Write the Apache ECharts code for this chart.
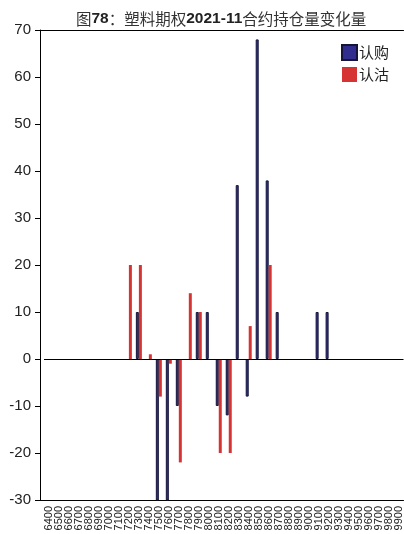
<!DOCTYPE html>
<html><head><meta charset="utf-8">
<script src="https://cdn.jsdelivr.net/npm/echarts@6/dist/echarts.min.js"></script>
<style>html,body{margin:0;padding:0;background:#fff}#c{width:404px;height:534px}</style>
</head><body><div id="c"></div>
<script>
const categories = ['6400','6500','6600','6700','6800','6900','7000','7100','7200','7300','7400','7500','7600','7700','7800','7900','8000','8100','8200','8300','8400','8500','8600','8700','8800','8900','9000','9100','9200','9300','9400','9500','9600','9700','9800','9900'];
const callValues = [0,0,0,0,0,0,0,0,0,10,0,-35,-33,-10,0,10,10,-10,-12,37,-8,68,38,10,0,0,0,10,10,0,0,0,0,0,0,0];
const putValues  = [0,0,0,0,0,0,0,0,20,20,1,-8,-1,-22,14,10,0,-20,-20,0,7,0,20,0,0,0,0,0,0,0,0,0,0,0,0,0];
const yTicks = [-30,-20,-10,0,10,20,30,40,50,60,70];
const seriesNames = ['认购','认沽'];

const chart = echarts.init(document.getElementById('c'));
const font = '"Liberation Sans", "Noto Sans CJK SC", sans-serif';
const cjk = '"Noto Sans CJK SC", sans-serif';
const toBar = arr => arr.map(v => ({value: v, itemStyle: v === 0 ? {borderWidth: 0, opacity: 0.35} : undefined}));
chart.setOption({
  animation: false,
  title: {
    text: '{a|图}{b|78}{a|：塑料期权}{b|2021-11}{a|合约持仓量变化量}',
    left: 71, top: 6,
    textStyle: {
      fontWeight: 'normal',
      rich: {
        a: {fontFamily: cjk, fontSize: 15.5, fontWeight: 'normal', color: '#333'},
        b: {fontFamily: font, fontSize: 15.5, fontWeight: 'bold', color: '#222'}
      }
    }
  },
  legend: {
    orient: 'vertical', right: 10, top: 39, itemWidth: 15, itemHeight: 15, itemGap: 6,
    icon: 'rect',
    textStyle: {fontFamily: cjk, fontSize: 15, color: '#222', padding: [0,0,0,-3]},
    data: seriesNames
  },
  grid: {left: 44, right: 0, top: 30, bottom: 34},
  xAxis: [{
    type: 'category', data: categories, position: 'bottom',
    axisLine: {onZero: false, lineStyle: {color: '#000', width: 1}},
    axisTick: {inside: true, alignWithLabel: true, length: 5, lineStyle: {color: '#000'}},
    axisLabel: {rotate: 90, interval: 0, fontFamily: font, fontSize: 11, color: '#222', margin: 6}
  },{
    type: 'category', data: categories, position: 'top',
    axisLine: {onZero: false, lineStyle: {color: '#000', width: 1}},
    axisTick: {inside: true, alignWithLabel: true, length: 5, lineStyle: {color: '#000'}},
    axisLabel: {show: false}
  }],
  yAxis: {
    type: 'value', min: -30, max: 70, interval: 10, offset: 4,
    axisLine: {show: true, lineStyle: {color: '#000', width: 1}},
    axisTick: {show: true, length: 5, lineStyle: {color: '#000'}},
    axisLabel: {fontFamily: font, fontSize: 15, color: '#222', margin: 9,
      formatter: v => yTicks.includes(v) ? String(v) : ''},
    splitLine: {show: false}
  },
  graphic: [
    {type: 'line', shape: {x1: 40, y1: 30.5, x2: 44, y2: 30.5}, style: {stroke: '#000', lineWidth: 1}, silent: true},
    {type: 'line', shape: {x1: 40, y1: 500.5, x2: 44, y2: 500.5}, style: {stroke: '#000', lineWidth: 1}, silent: true}
  ],
  series: [{
    name: seriesNames[0], type: 'bar', data: toBar(callValues), barWidth: 3, barGap: '0%',
    itemStyle: {color: '#302D8E', borderColor: '#15153A', borderWidth: 1},
    clip: true,
    markLine: {silent: true, symbol: 'none', label: {show: false},
      lineStyle: {color: '#000', width: 1, type: 'solid'}, data: [{yAxis: 0}]}
  },{
    name: seriesNames[1], type: 'bar', data: toBar(putValues), barWidth: 3, barGap: '0%',
    itemStyle: {color: '#D63333'}, clip: true
  }]
});
</script></body></html>
